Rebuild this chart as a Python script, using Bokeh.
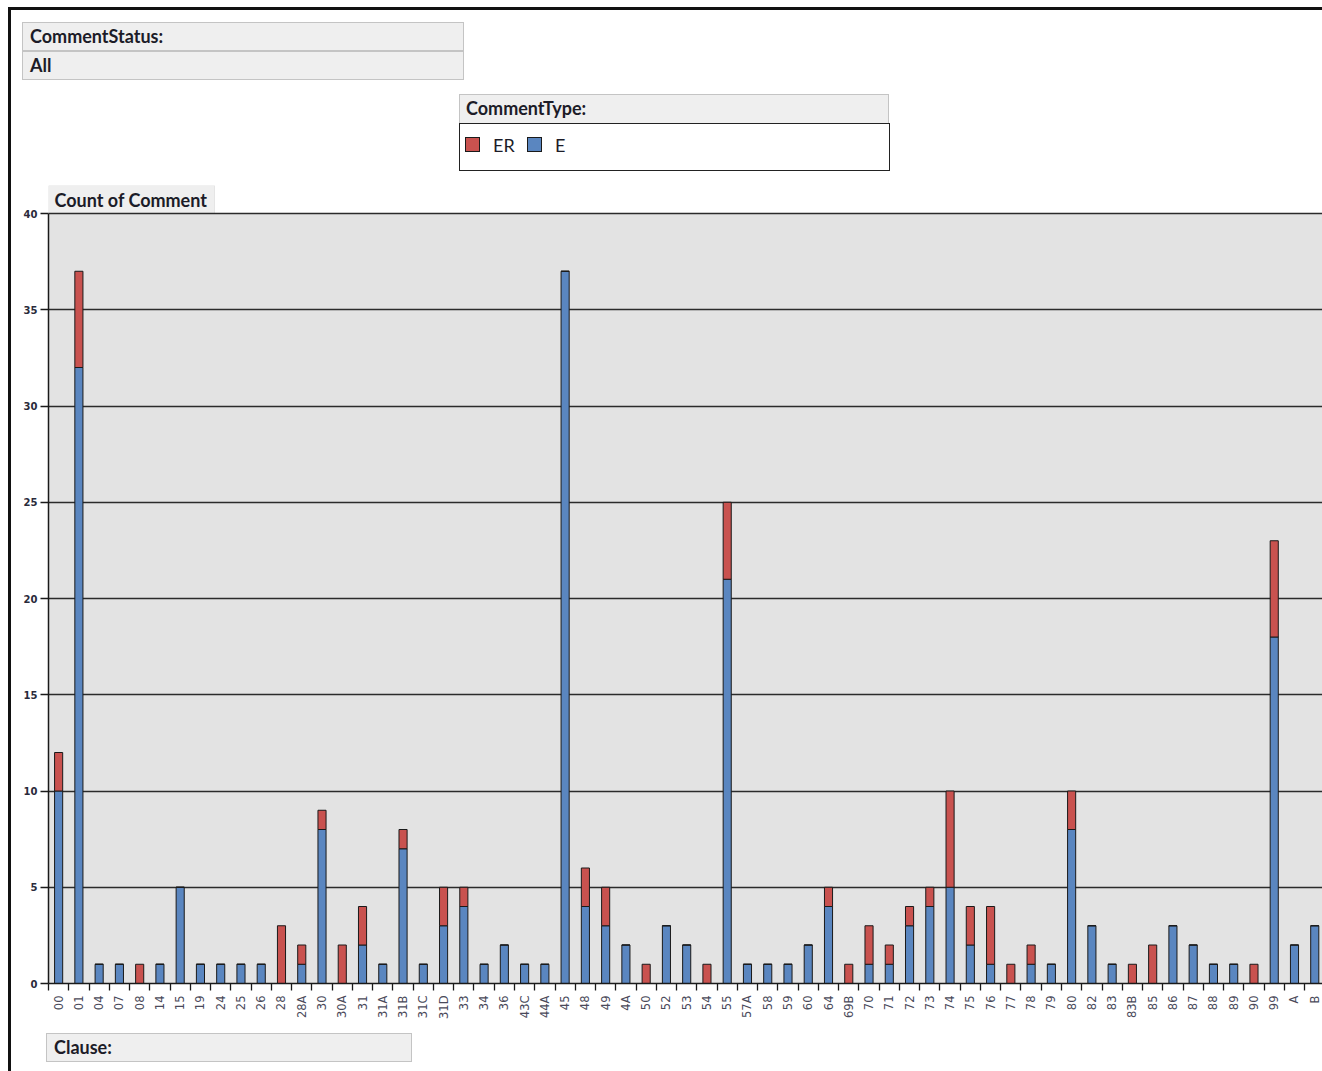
import numpy as np
from bokeh.plotting import figure
from bokeh.layouts import row, column
from bokeh.models import (Range1d, FixedTicker, BoxAnnotation, Label,
                          ColumnDataSource, Div)
from bokeh.embed import file_html
from bokeh.resources import INLINE

# ---------------- data ----------------
clauses = ["00", "01", "04", "07", "08", "14", "15", "19", "24", "25", "26", "28",
           "28A", "30", "30A", "31", "31A", "31B", "31C", "31D", "33", "34", "36",
           "43C", "44A", "45", "48", "49", "4A", "50", "52", "53", "54", "55", "57A",
           "58", "59", "60", "64", "69B", "70", "71", "72", "73", "74", "75", "76",
           "77", "78", "79", "80", "82", "83", "83B", "85", "86", "87", "88", "89",
           "90", "99", "A", "B"]
e_counts = [10, 32, 1, 1, 0, 1, 5, 1, 1, 1, 1, 0,
            1, 8, 0, 2, 1, 7, 1, 3, 4, 1, 2,
            1, 1, 37, 4, 3, 2, 0, 3, 2, 0, 21, 1,
            1, 1, 2, 4, 0, 1, 1, 3, 4, 5, 2, 1,
            0, 1, 1, 8, 3, 1, 0, 0, 3, 2, 1, 1,
            0, 18, 2, 3]
er_counts = [2, 5, 0, 0, 1, 0, 0, 0, 0, 0, 0, 3,
             1, 1, 2, 2, 0, 1, 0, 2, 1, 0, 0,
             0, 0, 0, 2, 2, 0, 1, 0, 0, 1, 4, 0,
             0, 0, 0, 1, 1, 2, 1, 1, 1, 5, 2, 3,
             1, 1, 0, 2, 0, 0, 1, 2, 0, 0, 0, 0,
             1, 5, 0, 0]
y_ticks = [0, 5, 10, 15, 20, 25, 30, 35, 40]
series = ["E", "ER"]
series_colors = ["#5a86c0", "#c9524f"]
legend_order = ["ER", "E"]
status_value = "All"

FONT = "Lato"
TXT = "#1c1c28"
PANEL = "#efefef"
PANEL_LINE = "#c4c4c4"
FRAME = "#111111"

PAGE_W = 1322
HDR_H = 185
CHART_H = 843
FTR_H = 43
LEFT_W = 11


def abs_box(l, t, w, h, extra):
    return (f'<div style="position:absolute;left:{l}px;top:{t}px;width:{w}px;'
            f'height:{h}px;box-sizing:border-box;{extra}"></div>')


def abs_text(l, t, h, s, bold=True, size=18):
    weight = "bold" if bold else "normal"
    return (f'<div style="position:absolute;left:{l}px;top:{t}px;height:{h}px;'
            f'line-height:{h}px;font-family:{FONT};font-size:{size}px;'
            f'font-weight:{weight};color:{TXT};white-space:nowrap">{s}</div>')


def wrap(w, h, inner):
    return (f'<div style="position:relative;width:{w}px;height:{h}px;'
            f'overflow:hidden;margin:0;padding:0">{inner}</div>')


# ---------------- header: filters + legend ----------------
name_to_color = dict(zip(series, series_colors))
hdr_parts = [
    abs_box(8, 7, PAGE_W - 8, 3, f"background:{FRAME}"),
    abs_box(8, 7, 3, HDR_H - 7, f"background:{FRAME}"),
    abs_box(22, 22, 442, 29, f"background:{PANEL};border:1px solid {PANEL_LINE}"),
    abs_box(22, 51, 442, 29, f"background:{PANEL};border:1px solid {PANEL_LINE}"),
    abs_text(30, 22, 29, "CommentStatus:"),
    abs_text(30, 51, 29, status_value),
    abs_box(459, 94, 430, 30, f"background:{PANEL};border:1px solid {PANEL_LINE}"),
    abs_box(459, 123, 431, 48, "background:white;border:1.5px solid #222"),
    abs_text(466, 94, 29, "CommentType:"),
]
leg_x = 465
for name in legend_order:
    hdr_parts.append(abs_box(leg_x, 137, 15, 15,
                             f"background:{name_to_color[name]};border:1.2px solid #1a1a1a"))
    hdr_parts.append(abs_text(leg_x + 28, 131, 28, name, bold=False))
    leg_x += 62
hdr = Div(text=wrap(PAGE_W, HDR_H, "".join(hdr_parts)), width=PAGE_W, height=HDR_H,
          styles={"margin": "0", "padding": "0"})

# ---------------- main chart ----------------
n = len(clauses)
idx = list(range(n))
source = ColumnDataSource(dict(x=idx, E=e_counts, ER=er_counts))

BOTTOM = 45
frame_h = CHART_H - BOTTOM
y_top = 40 * frame_h / 770.0  # room above 40 for the "Count of Comment" tab
frame_w = PAGE_W - 48
x_end = -0.5 + frame_w / 20.26

p = figure(width=PAGE_W - LEFT_W, height=CHART_H,
           x_range=Range1d(-0.5, x_end), y_range=Range1d(0, y_top),
           output_backend="svg", toolbar_location=None,
           min_border_left=48 - LEFT_W, min_border_right=0,
           min_border_top=0, min_border_bottom=BOTTOM)
p.background_fill_color = "white"
p.border_fill_color = "white"
p.outline_line_color = None

# grey plot area 0..40
p.add_layout(BoxAnnotation(bottom=0, top=40, fill_color="#e3e3e3", fill_alpha=1,
                           line_color=None, level="image"))
# "Count of Comment" tab
p.add_layout(BoxAnnotation(left=0, right=166, left_units="screen", right_units="screen",
                           bottom=40, top=y_top, fill_color=PANEL, fill_alpha=1,
                           line_color="#bdbdbd", line_width=1, level="image"))
p.add_layout(Label(x=6, y=(40 + y_top) / 2, x_units="screen", y_units="data",
                   text="Count of Comment", text_font=FONT, text_font_size="18px",
                   text_font_style="bold", text_color=TXT, text_baseline="middle"))

rs = p.vbar_stack(series, x="x", width=0.4, source=source,
                  fill_color=series_colors, line_color="#1a1a1a", line_width=1)

# x axis
xa = p.xaxis[0]
xa.ticker = FixedTicker(ticks=idx, minor_ticks=[i - 0.5 for i in range(n + 1)])
xa.major_label_overrides = {i: c for i, c in enumerate(clauses)}
xa.major_label_orientation = np.pi / 2
xa.major_tick_line_color = None
xa.major_tick_out = 7
xa.major_tick_in = 0
xa.minor_tick_out = 7
xa.minor_tick_in = 0
xa.minor_tick_line_color = "#1a1a1a"
xa.minor_tick_line_width = 1.3
xa.major_label_standoff = 5
xa.major_label_text_font = "DejaVu Sans"
xa.major_label_text_font_size = "11.5px"
xa.major_label_text_color = "#4a4a5a"
xa.axis_line_color = "#1a1a1a"
xa.axis_line_width = 1.5

# y axis
ya = p.yaxis[0]
ya.ticker = FixedTicker(ticks=y_ticks)
ya.bounds = (0, 40)
ya.major_tick_out = 8
ya.major_tick_in = 0
ya.minor_tick_line_color = None
ya.major_tick_line_color = "#1a1a1a"
ya.major_tick_line_width = 1.3
ya.major_label_standoff = 3
ya.major_label_text_font = "DejaVu Sans"
ya.major_label_text_font_size = "10px"
ya.major_label_text_font_style = "bold"
ya.major_label_text_color = "#2a2a3a"
ya.axis_line_color = "#1a1a1a"
ya.axis_line_width = 1.5

p.xgrid.grid_line_color = None
p.ygrid.ticker = FixedTicker(ticks=y_ticks)
p.ygrid.grid_line_color = "#2b2b2b"
p.ygrid.grid_line_width = 1.5

left_strip = Div(text=wrap(LEFT_W, CHART_H, abs_box(8, 0, 3, CHART_H, f"background:{FRAME}")),
                 width=LEFT_W, height=CHART_H, styles={"margin": "0", "padding": "0"})

# ---------------- footer: Clause filter ----------------
ftr_parts = [
    abs_box(8, 0, 3, FTR_H, f"background:{FRAME}"),
    abs_box(46, 5, 366, 29, f"background:{PANEL};border:1px solid {PANEL_LINE}"),
    abs_text(54, 5, 29, "Clause:"),
]
ftr = Div(text=wrap(PAGE_W, FTR_H, "".join(ftr_parts)), width=PAGE_W, height=FTR_H,
          styles={"margin": "0", "padding": "0"})

layout = column(hdr, row(left_strip, p, spacing=0), ftr, spacing=0)

open("out.html", "w").write(file_html(layout, INLINE))
